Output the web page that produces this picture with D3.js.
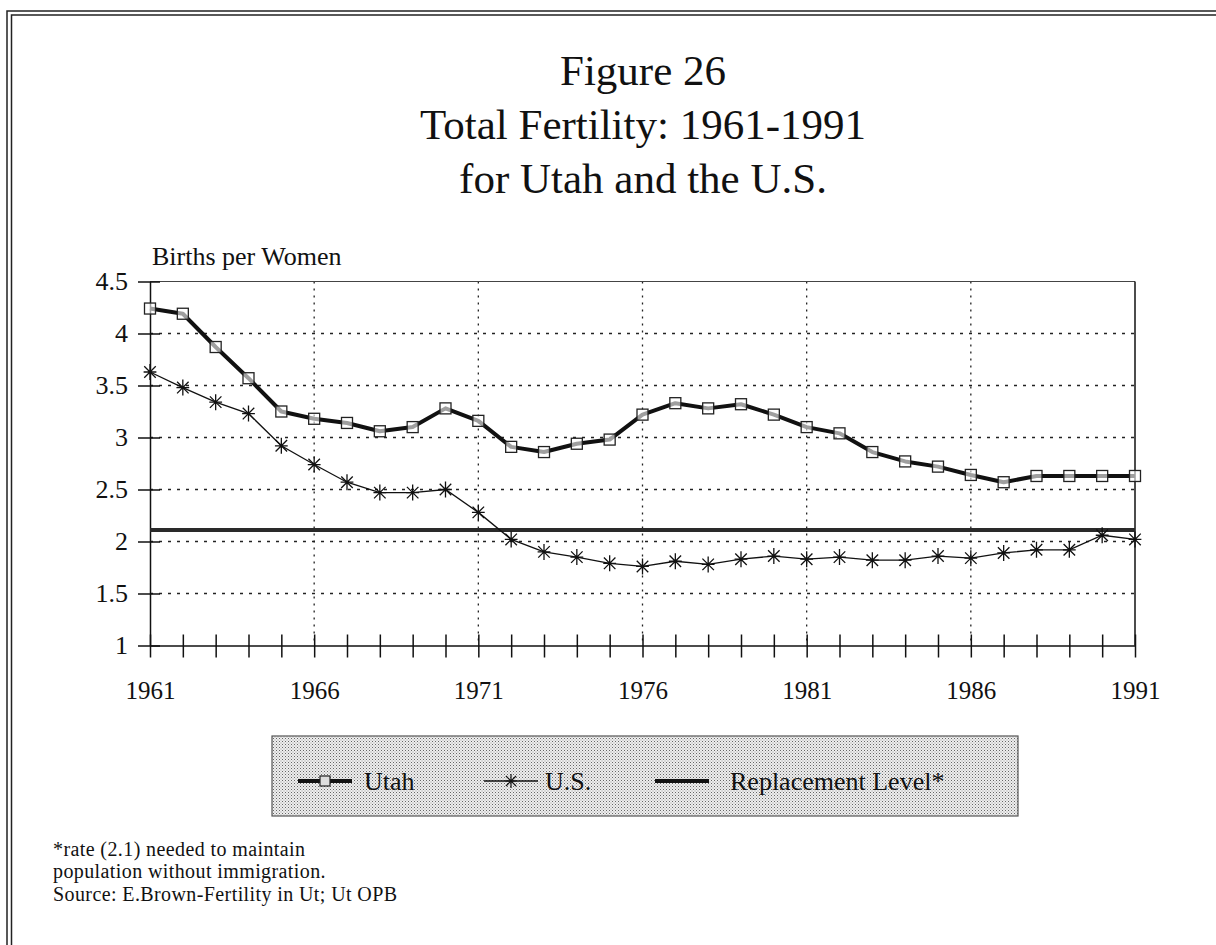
<!DOCTYPE html>
<html>
<head>
<meta charset="utf-8">
<script src="https://d3js.org/d3.v7.min.js"></script>
<style>
  body { margin: 0; background: #fff; }
  svg text { font-family: "Liberation Serif", "Times New Roman", serif; fill: #111; }
</style>
</head>
<body>
<svg id="chart" width="1216" height="945"></svg>
<script>
// data
const years = [1961, 1962, 1963, 1964, 1965, 1966, 1967, 1968, 1969, 1970,
  1971, 1972, 1973, 1974, 1975, 1976, 1977, 1978, 1979, 1980,
  1981, 1982, 1983, 1984, 1985, 1986, 1987, 1988, 1989, 1990, 1991];
const utah = [4.24, 4.19, 3.87, 3.57, 3.25, 3.18, 3.14, 3.06, 3.10, 3.28,
  3.16, 2.91, 2.86, 2.94, 2.98, 3.22, 3.33, 3.28, 3.32, 3.22,
  3.10, 3.04, 2.86, 2.77, 2.72, 2.64, 2.57, 2.63, 2.63, 2.63, 2.63];
const us = [3.63, 3.48, 3.34, 3.23, 2.92, 2.74, 2.57, 2.47, 2.47, 2.50,
  2.28, 2.02, 1.90, 1.85, 1.79, 1.76, 1.81, 1.78, 1.83, 1.86,
  1.83, 1.85, 1.82, 1.82, 1.86, 1.84, 1.89, 1.92, 1.92, 2.06, 2.02];
const replacementYears = [1961, 1991];
const replacement = [2.11, 2.11];
const yTicks = [1, 1.5, 2, 2.5, 3, 3.5, 4, 4.5];
const xLabelYears = [1961, 1966, 1971, 1976, 1981, 1986, 1991];
const titleLines = ["Figure 26", "Total Fertility: 1961-1991", "for Utah and the U.S."];
const noteLines = ["*rate (2.1) needed to maintain", "population without immigration.",
  "Source: E.Brown-Fertility in Ut; Ut OPB"];
const legendItems = ["Utah", "U.S.", "Replacement Level*"];

const serif = "'Liberation Serif', 'Times New Roman', serif";
const svg = d3.select("#chart");

// halftone pattern for legend box
const defs = svg.append("defs");
const pat = defs.append("pattern").attr("id", "dots")
  .attr("width", 3).attr("height", 3).attr("patternUnits", "userSpaceOnUse");
pat.append("rect").attr("width", 3).attr("height", 3).attr("fill", "#eeeeee");
pat.append("rect").attr("width", 1).attr("height", 1).attr("fill", "#666");
pat.append("rect").attr("x", 1.5).attr("y", 1.5).attr("width", 1).attr("height", 1).attr("fill", "#999");

// page frame (double rule, top and left)
svg.append("path").attr("d", "M7,945 V11 H1216").attr("fill", "none").attr("stroke", "#222").attr("stroke-width", 1.5);
svg.append("path").attr("d", "M11.5,945 V15 H1216").attr("fill", "none").attr("stroke", "#222").attr("stroke-width", 1.5);

// title
svg.append("g").selectAll("text").data(titleLines).enter().append("text")
  .attr("x", 643).attr("y", (d, i) => 85 + i * 54)
  .attr("text-anchor", "middle").style("font-size", "43px").style("font-family", serif)
  .text(d => d);

const x = d3.scaleLinear().domain([1961, 1991]).range([150, 1135]);
const y = d3.scaleLinear().domain([1, 4.5]).range([645.5, 281.5]);

// grid
svg.append("g").selectAll("line").data(yTicks.slice(1, -1)).enter().append("line")
  .attr("x1", x(1961)).attr("x2", x(1991))
  .attr("y1", d => y(d)).attr("y2", d => y(d))
  .attr("stroke", "#222").attr("stroke-width", 1.3).attr("stroke-dasharray", "3,6");
svg.append("g").selectAll("line").data(xLabelYears.slice(1, -1)).enter().append("line")
  .attr("x1", d => x(d)).attr("x2", d => x(d))
  .attr("y1", y(4.5)).attr("y2", y(1))
  .attr("stroke", "#222").attr("stroke-width", 1.3).attr("stroke-dasharray", "2,5");

// plot box top and right
svg.append("line").attr("x1", x(1961)).attr("x2", x(1991)).attr("y1", y(4.5)).attr("y2", y(4.5))
  .attr("stroke", "#444").attr("stroke-width", 1.2);
svg.append("line").attr("x1", x(1991)).attr("x2", x(1991)).attr("y1", y(4.5)).attr("y2", y(1))
  .attr("stroke", "#111").attr("stroke-width", 1.5);

// y axis
svg.append("g").attr("transform", "translate(" + x(1961) + ",0)")
  .call(d3.axisLeft(y).tickValues(yTicks).tickFormat(d3.format("")).tickSize(12).tickSizeOuter(0).tickPadding(10))
  .call(g => g.select(".domain").attr("stroke", "#111").attr("stroke-width", 1.5))
  .call(g => g.selectAll(".tick line").attr("x1", 10).attr("stroke", "#111").attr("stroke-width", 1.5))
  .call(g => g.selectAll("text").style("font-size", "26px").attr("fill", "#111").style("font-family", serif));

// x axis
svg.append("g").attr("transform", "translate(0," + y(1) + ")")
  .call(d3.axisBottom(x).tickValues(years).tickFormat(d => xLabelYears.includes(d) ? d : "")
    .tickSize(12).tickSizeOuter(0).tickPadding(24))
  .call(g => g.select(".domain").attr("stroke", "#111").attr("stroke-width", 1.5))
  .call(g => g.selectAll(".tick line").attr("y1", -11).attr("stroke", "#111").attr("stroke-width", 1.5))
  .call(g => g.selectAll("text").style("font-size", "25px").attr("fill", "#111").style("font-family", serif));

svg.append("text").attr("x", 152).attr("y", 265).style("font-size", "26px").style("font-family", serif)
  .text("Births per Women");

// replacement level
const line = d3.line().x(d => x(d[0])).y(d => y(d[1]));
svg.append("path").datum(d3.zip(replacementYears, replacement)).attr("d", line)
  .attr("fill", "none").attr("stroke", "#2a2a2a").attr("stroke-width", 4);

// U.S.
const starPath = r => {
  const k = r * 0.72;
  return "M0," + (-r) + "V" + r + "M" + (-k) + "," + (-k) + "L" + k + "," + k + "M" + (-k) + "," + k + "L" + k + "," + (-k) + "M" + (-r*0.8) + ",0H" + (r*0.8);
};
svg.append("path").datum(d3.zip(years, us)).attr("d", line)
  .attr("fill", "none").attr("stroke", "#111").attr("stroke-width", 1.3);
svg.append("g").selectAll("path").data(d3.zip(years, us)).enter().append("path")
  .attr("transform", d => "translate(" + x(d[0]) + "," + y(d[1]) + ")")
  .attr("d", starPath(8)).attr("fill", "none").attr("stroke", "#111").attr("stroke-width", 1.3);

// Utah
svg.append("path").datum(d3.zip(years, utah)).attr("d", line)
  .attr("fill", "none").attr("stroke", "#111").attr("stroke-width", 4).attr("stroke-linejoin", "round");
svg.append("g").selectAll("rect").data(d3.zip(years, utah)).enter().append("rect")
  .attr("x", d => x(d[0]) - 5.5).attr("y", d => y(d[1]) - 5.5)
  .attr("width", 11).attr("height", 11)
  .attr("fill", "#fff").attr("fill-opacity", 0.6).attr("stroke", "#222").attr("stroke-width", 1.3);

// legend
const leg = svg.append("g");
leg.append("rect").attr("x", 272).attr("y", 736).attr("width", 746).attr("height", 80)
  .attr("fill", "url(#dots)").attr("stroke", "#555").attr("stroke-width", 1.2);
const ly = 781;
const legX = [298, 484, 655];
const textX = [364, 545, 730];
legendItems.forEach((name, i) => {
  leg.append("line").attr("x1", legX[i]).attr("x2", legX[i] + 54).attr("y1", ly).attr("y2", ly)
    .attr("stroke", "#111").attr("stroke-width", i === 1 ? 1.3 : 4);
  if (i === 0) {
    leg.append("rect").attr("x", legX[i] + 22).attr("y", ly - 5).attr("width", 10).attr("height", 10)
      .attr("fill", "#ddd").attr("stroke", "#222").attr("stroke-width", 1.2);
  }
  if (i === 1) {
    leg.append("path").attr("transform", "translate(" + (legX[i] + 27) + "," + ly + ")")
      .attr("d", starPath(7)).attr("fill", "none").attr("stroke", "#111").attr("stroke-width", 1.2);
  }
  leg.append("text").attr("x", textX[i]).attr("y", ly + 9).style("font-size", "26px")
    .style("font-family", serif).text(name);
});

// footnote
svg.append("g").selectAll("text").data(noteLines).enter().append("text")
  .attr("x", 53).attr("y", (d, i) => 856 + i * 22.3)
  .style("font-size", "20px").style("letter-spacing", "0.4px").style("font-family", serif)
  .text(d => d);
</script>
</body>
</html>
